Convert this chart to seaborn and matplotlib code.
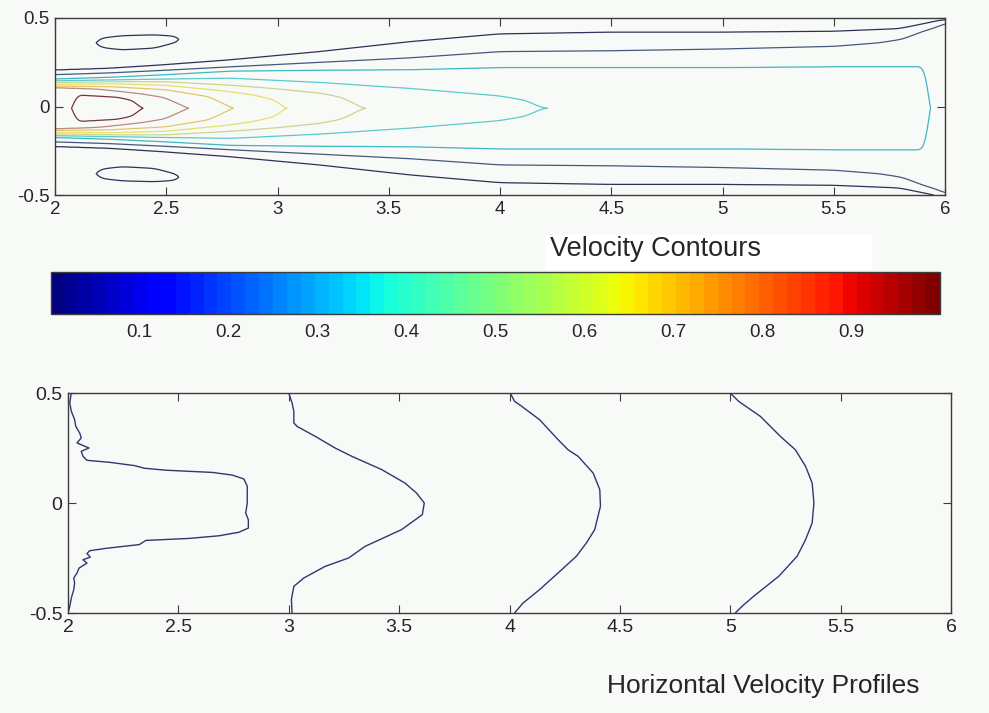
import numpy as np
import matplotlib
matplotlib.use('Agg')
import matplotlib.pyplot as plt
import seaborn as sns
from matplotlib.colors import Normalize
from matplotlib.cm import ScalarMappable
from matplotlib.patches import Rectangle

# contour levels of the velocity field
levels = [0.1, 0.2, 0.3, 0.4, 0.5, 0.6, 0.7, 0.8, 0.9]

# where each level crosses, as |y| at stations along x
lev01_x = [2.0, 2.25, 2.5, 2.79, 3.2, 3.6, 4.0, 4.5, 5.0, 5.5, 5.8, 5.9, 6.0]
lev01_w = [0.215, 0.225, 0.245, 0.272, 0.32, 0.376, 0.42, 0.43, 0.43, 0.435, 0.45, 0.475, 0.5]
lev02_x = [2.0, 2.25, 2.5, 2.79, 3.2, 3.6, 4.0, 4.5, 5.0, 5.5, 5.7, 5.8, 5.9, 6.0]
lev02_w = [0.19, 0.2, 0.215, 0.234, 0.26, 0.285, 0.32, 0.325, 0.335, 0.35, 0.37, 0.39, 0.44, 0.49]
lev03_x = [2.0, 2.25, 2.5, 2.79, 3.2, 3.6, 4.0, 5.0, 5.5, 5.88, 5.95]
lev03_w = [0.165, 0.175, 0.19, 0.21, 0.215, 0.218, 0.23, 0.23, 0.235, 0.235, 0.235]
lev04_x = [2.0, 2.25, 2.5, 2.79, 3.2, 3.6, 4.0, 4.12, 4.2]
lev04_w = [0.155, 0.16, 0.165, 0.17, 0.145, 0.112, 0.07, 0.045, 0.0]
lev05_x = [2.0, 2.25, 2.5, 2.79, 3.0, 3.2, 3.3, 3.39]
lev05_w = [0.145, 0.15, 0.15, 0.13, 0.11, 0.085, 0.06, 0.0]
lev06_x = [2.0, 2.25, 2.5, 2.79, 2.9, 3.0, 3.04]
lev06_w = [0.135, 0.138, 0.13, 0.094, 0.075, 0.045, 0.0]
lev07_x = [2.0, 2.25, 2.5, 2.7, 2.8]
lev07_w = [0.125, 0.122, 0.105, 0.065, 0.0]
lev08_x = [2.0, 2.2, 2.4, 2.5, 2.6]
lev08_w = [0.118, 0.108, 0.08, 0.06, 0.0]
lev09_x = [2.07, 2.12, 2.3, 2.37, 2.4]
lev09_w = [0.075, 0.075, 0.062, 0.04, 0.0]

# centreline velocity and the value at the walls
center_x = [2.0, 2.06, 2.08, 2.3, 2.4, 2.6, 2.8, 3.04, 3.39, 4.2, 5.0, 5.5, 5.88, 5.92, 5.94, 6.0]
center_u = [0.84, 0.86, 0.93, 0.93, 0.9, 0.8, 0.7, 0.6, 0.5, 0.4, 0.38, 0.36, 0.34, 0.33, 0.28, 0.27]
edge_u = 0.04
jet_offset = -0.01

# small closed 0.1 islands near the nozzle
island_x = [2.17, 2.2, 2.3, 2.45, 2.55, 2.57]
island_lo = [0.36, 0.34, 0.33, 0.34, 0.37, 0.38]
island_hi = [0.38, 0.40, 0.41, 0.415, 0.41, 0.40]
island_peak = [0.1, 0.115, 0.12, 0.12, 0.115, 0.1]

# horizontal velocity profiles (bottom panel)
prof2_y = [0.5, 0.455, 0.417, 0.379, 0.349, 0.318, 0.296, 0.273, 0.25, 0.235, 0.212, 0.194,
           0.185, 0.17, 0.158, 0.149, 0.139, 0.127, 0.109, 0.076, 0.0, -0.046, -0.076, -0.114,
           -0.133, -0.149, -0.161, -0.17, -0.189, -0.206, -0.217, -0.23, -0.246, -0.258,
           -0.273, -0.296, -0.318, -0.341, -0.364, -0.394, -0.432, -0.47, -0.5]
prof2_u = [0.015, 0.008, 0.015, 0.03, 0.035, 0.053, 0.06, 0.041, 0.095, 0.06, 0.068, 0.086,
           0.188, 0.301, 0.346, 0.444, 0.654, 0.744, 0.797, 0.812, 0.812, 0.805, 0.817, 0.817,
           0.774, 0.684, 0.549, 0.353, 0.323, 0.173, 0.098, 0.086, 0.101, 0.068,
           0.086, 0.05, 0.041, 0.026, 0.03, 0.026, 0.015, 0.008, 0.0]
prof3_y = [0.5, 0.455, 0.417, 0.364, 0.348, 0.303, 0.25, 0.212, 0.152, 0.091, 0.045, 0.0,
           -0.053, -0.121, -0.197, -0.25, -0.288, -0.341, -0.379, -0.439, -0.5]
prof3_u = [0.0, 0.015, 0.023, 0.023, 0.038, 0.12, 0.21, 0.286, 0.421, 0.526, 0.579, 0.614,
           0.605, 0.511, 0.346, 0.271, 0.165, 0.068, 0.023, 0.012, 0.015]
prof4_y = [0.5, 0.462, 0.447, 0.379, 0.288, 0.242, 0.212, 0.136, 0.061, -0.015, -0.121,
           -0.182, -0.242, -0.318, -0.394, -0.455, -0.5]
prof4_u = [0.003, 0.023, 0.045, 0.136, 0.22, 0.265, 0.311, 0.379, 0.409, 0.412, 0.386,
           0.348, 0.303, 0.22, 0.136, 0.061, 0.023]
prof5_y = [0.5, 0.462, 0.394, 0.303, 0.242, 0.167, 0.091, 0.0, -0.091, -0.167, -0.242,
           -0.333, -0.424, -0.47, -0.5]
prof5_u = [0.0, 0.038, 0.136, 0.227, 0.295, 0.341, 0.371, 0.379, 0.371, 0.341, 0.303,
           0.22, 0.106, 0.053, 0.023]
stations = [2, 3, 4, 5]

cbar_ticks = [0.1, 0.2, 0.3, 0.4, 0.5, 0.6, 0.7, 0.8, 0.9]
x_ticks = [2, 2.5, 3, 3.5, 4, 4.5, 5, 5.5, 6]
y_ticks = [-0.5, 0, 0.5]

level_tables = list(zip(levels, [lev01_x, lev02_x, lev03_x, lev04_x, lev05_x, lev06_x, lev07_x, lev08_x, lev09_x],
                        [lev01_w, lev02_w, lev03_w, lev04_w, lev05_w, lev06_w, lev07_w, lev08_w, lev09_w]))


def profile_at(x, y_rel):
    uc = np.interp(x, center_x, center_u)
    ys, us = [0.0], [uc]
    for lev, wx, ww in level_tables:
        if wx[0] <= x <= wx[-1] and uc > lev:
            w = np.interp(x, wx, ww)
            if w > 1e-3:
                ys.append(w)
                us.append(lev)
    if island_x[0] < x < island_x[-1]:
        lo = np.interp(x, island_x, island_lo)
        hi = np.interp(x, island_x, island_hi)
        mid = (lo + hi) / 2
        pk = np.interp(x, island_x, island_peak)
        ys += [2 * lo - mid, mid, 2 * hi - mid]
        us += [0.08, pk, 0.08]
    ys.append(0.52)
    us.append(edge_u)
    ys = np.array(ys)
    us = np.array(us)
    order = np.argsort(ys)
    return np.interp(y_rel, ys[order], us[order])


xg = np.linspace(2, 6, 801)
yg = np.linspace(-0.5, 0.5, 401)
U = np.column_stack([profile_at(x, np.abs(yg - jet_offset)) for x in xg])

# soften the kinks between stations a little (along x only)
k = np.arange(-12, 13)
kern = np.exp(-0.5 * (k / 4.0) ** 2)
kern /= kern.sum()
Upad = np.pad(U, ((0, 0), (12, 12)), mode='edge')
U = np.array([np.convolve(row, kern, mode='valid') for row in Upad])
X, Y = np.meshgrid(xg, yg)

sns.set_style('ticks')
bg = '#f8faf7'
spine = '#3c3c3c'
plt.rcParams['font.family'] = ['Liberation Sans', 'DejaVu Sans']
plt.rcParams['axes.unicode_minus'] = False

fig = plt.figure(figsize=(9.89, 7.13), dpi=100, facecolor=bg)

line_colors = ['#2e3158', '#47587e', '#3fb6c4', '#5cc9cf', '#c9d58f',
               '#e6df6a', '#e2c66a', '#b88a80', '#7a3343']

# top: contours
ax1 = fig.add_axes([55 / 989, 1 - 195 / 713, 890 / 989, 177 / 713])
ax1.set_facecolor(bg)
ax1.contour(X, Y, U, levels=levels, colors=line_colors, linewidths=0.9)

# colorbar strip
cax = fig.add_axes([50.7 / 989, 1 - 314.3 / 713, 889.3 / 989, 42 / 713])
sm = ScalarMappable(norm=Normalize(0, 1), cmap=plt.get_cmap('jet', 64))
cb = fig.colorbar(sm, cax=cax, orientation='horizontal', ticks=cbar_ticks)
cb.outline.set_edgecolor(spine)
cb.outline.set_linewidth(1)
cax.tick_params(direction='in', length=5, width=0.8, color=spine, top=True, bottom=True,
                labelsize=13.5, pad=7)
cax.set_xticklabels(['%g' % t for t in cbar_ticks])

fig.add_artist(Rectangle((545 / 989, 1 - 270 / 713), 327 / 989, 35 / 713,
                         transform=fig.transFigure, facecolor='white', edgecolor='none'))
fig.text(550 / 989, 1 - 256 / 713, 'Velocity Contours', fontsize=19.5, va='baseline', ha='left')

# bottom: profiles
ax2 = fig.add_axes([68 / 989, 1 - 613 / 713, 883 / 989, 220 / 713])
ax2.set_facecolor(bg)
for st, py, pu in zip(stations, [prof2_y, prof3_y, prof4_y, prof5_y],
                      [prof2_u, prof3_u, prof4_u, prof5_u]):
    sns.lineplot(x=st + np.array(pu), y=py, sort=False, estimator=None,
                 color='#34346e', linewidth=1, ax=ax2)

fig.text(607 / 989, 1 - 693 / 713, 'Horizontal Velocity Profiles', fontsize=19,
         va='baseline', ha='left')

for ax, fs, pad in [(ax1, 13.5, 4), (ax2, 14, 4)]:
    ax.set_xlim(2, 6)
    ax.set_ylim(-0.5, 0.5)
    ax.set_xticks(x_ticks)
    ax.set_xticklabels(['%g' % t for t in x_ticks])
    ax.set_yticks(y_ticks)
    ax.set_yticklabels(['%g' % t for t in y_ticks])
    ax.tick_params(direction='in', length=6, width=0.8, color=spine, top=True, right=True,
                   labelsize=fs, pad=pad)
    for s in ax.spines.values():
        s.set_visible(True)
        s.set_color(spine)
        s.set_linewidth(1)

fig.savefig('out.png', dpi=100, facecolor=bg)
